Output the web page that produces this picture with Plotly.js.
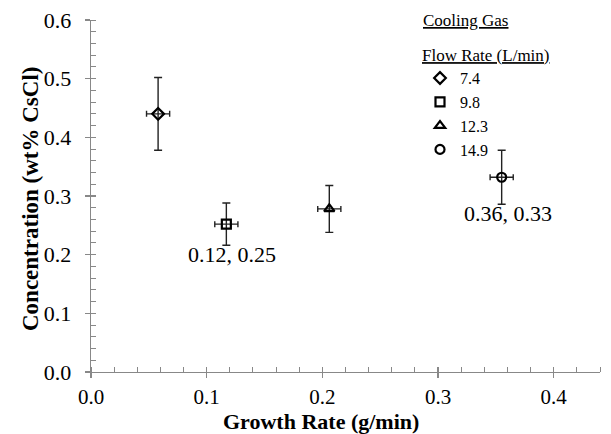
<!DOCTYPE html>
<html>
<head>
<meta charset="utf-8">
<script src="https://cdn.plot.ly/plotly-3.0.1.min.js"></script>
<style>html,body{margin:0;padding:0;background:#fff;}#chart{width:611px;height:434px;}</style>
</head>
<body>
<div id="chart"></div>
<script>
const flowRates = ['7.4', '9.8', '12.3', '14.9'];
const symbols = ['diamond-open', 'square-open', 'triangle-up-open', 'circle-open'];
const growthRate = [0.058, 0.117, 0.206, 0.355];
const concentration = [0.440, 0.252, 0.278, 0.332];
const growthErr = [0.010, 0.010, 0.010, 0.010];
const concErr = [0.062, 0.036, 0.040, 0.046];
const labelIdx = [1, 3];
const labelText = ['0.12, 0.25', '0.36, 0.33'];
const xTicks = [0, 0.1, 0.2, 0.3, 0.4];
const yTicks = [0, 0.1, 0.2, 0.3, 0.4, 0.5, 0.6];
const xTitle = 'Growth Rate (g/min)';
const yTitle = 'Concentration (wt% CsCl)';
const legendTitle1 = 'Cooling Gas';
const legendTitle2 = 'Flow Rate (L/min)';

const FONT = "'Liberation Serif', 'Times New Roman', Times, serif";
const L = 91, R = 11, T = 20, B = 62, W = 611, H = 434;
const px2x = p => (p - L) / (W - L - R);
const py2y = p => (H - B - p) / (H - T - B);

const traces = flowRates.map((f, i) => ({
  x: [growthRate[i]], y: [concentration[i]],
  type: 'scatter', mode: 'markers', name: f,
  marker: {symbol: symbols[i], size: 9, color: '#000', line: {width: 2.2, color: '#000'}},
  error_y: {type: 'data', array: [concErr[i]], color: '#222', thickness: 1.4, width: 4},
  error_x: {type: 'data', array: [growthErr[i]], color: '#222', thickness: 1.4, width: 3}
}));
traces.push({x: [null], y: [null], xaxis: 'x2', yaxis: 'y2', showlegend: false, hoverinfo: 'skip', mode: 'markers'});

const annotations = labelIdx.map((k, j) => ({
  x: growthRate[k], y: concentration[k] - concErr[k], xref: 'x', yref: 'y',
  text: labelText[j], showarrow: false, yanchor: 'middle', xanchor: 'center', yshift: -9, xshift: 6,
  font: {family: FONT, size: 22, color: '#000'}
}));
annotations.push({
  x: px2x(321), y: py2y(421), xref: 'paper', yref: 'paper', text: '<b>' + xTitle + '</b>', showarrow: false,
  xanchor: 'center', yanchor: 'middle', borderpad: 0, font: {family: FONT, size: 22, color: '#000'}
});
annotations.push({
  x: px2x(30), y: py2y(199), xref: 'paper', yref: 'paper', text: '<b>' + yTitle + '</b>', showarrow: false,
  textangle: -90, xanchor: 'center', yanchor: 'middle', font: {family: FONT, size: 23, color: '#000'}
});
annotations.push({
  x: px2x(421), y: py2y(20), xref: 'paper', yref: 'paper', text: '<u>' + legendTitle1 + '</u>', showarrow: false,
  xanchor: 'left', yanchor: 'middle', font: {family: FONT, size: 17, color: '#000'}
});

const axisCommon = {
  showgrid: false, zeroline: false, showline: true, linecolor: '#888', linewidth: 1.3,
  ticks: 'outside', ticklen: 5, tickwidth: 1.3, tickcolor: '#888',
  tickfont: {family: FONT, size: 22, color: '#000'}, tickformat: '.1f'
};

const layout = {
  width: W, height: H,
  margin: {l: L, r: R, t: T, b: B},
  paper_bgcolor: '#fff', plot_bgcolor: '#fff',
  font: {family: FONT, color: '#000'},
  xaxis: Object.assign({}, axisCommon, {
    range: [0, 0.44], tickvals: xTicks, ticklabelstandoff: 0,
    tickfont: {family: FONT, size: 21, color: '#000'},
    minor: {dtick: 0.02, ticks: 'inside', ticklen: 5, tickwidth: 1, tickcolor: '#888'}
  }),
  yaxis: Object.assign({}, axisCommon, {
    range: [0, 0.6], tickvals: yTicks, ticklabelstandoff: 9,
    minor: {dtick: 0.02, ticks: 'inside', ticklen: 5, tickwidth: 1, tickcolor: '#888'}
  }),
  xaxis2: {overlaying: 'x', matches: 'x', range: [0, 0.44], tickvals: xTicks, ticks: 'inside', ticklen: 5, tickwidth: 1.3, tickcolor: '#888', showticklabels: false, showgrid: false, zeroline: false, showline: false, side: 'bottom'},
  yaxis2: {overlaying: 'y', matches: 'y', range: [0, 0.6], tickvals: yTicks, ticks: 'inside', ticklen: 5, tickwidth: 1.3, tickcolor: '#888', showticklabels: false, showgrid: false, zeroline: false, showline: false, side: 'left'},
  legend: {
    x: px2x(420), y: py2y(39), xanchor: 'left', yanchor: 'top',
    bgcolor: 'rgba(0,0,0,0)', borderwidth: 0,
    font: {family: FONT, size: 16, color: '#000'},
    title: {text: '<u>' + legendTitle2 + '</u>', font: {family: FONT, size: 17, color: '#000'}},
    tracegroupgap: 0, itemwidth: 30
  },
  annotations: annotations,
  showlegend: true
};

Plotly.newPlot('chart', traces, layout, {displayModeBar: false, staticPlot: true});
</script>
</body>
</html>
